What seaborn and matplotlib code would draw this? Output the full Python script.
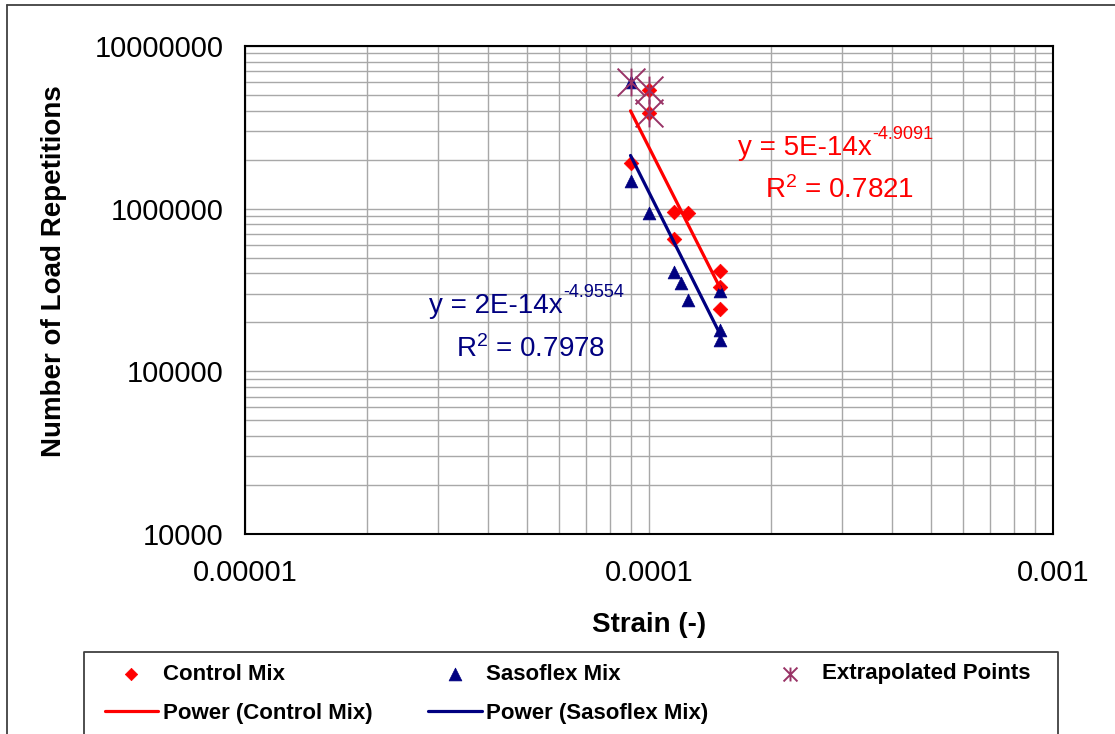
import numpy as np
import pandas as pd
import matplotlib
matplotlib.use("Agg")
import matplotlib.pyplot as plt
import seaborn as sns
from matplotlib.path import Path
from matplotlib.lines import Line2D
from matplotlib.ticker import LogLocator, FixedLocator, NullFormatter

# ---------------- data ----------------
ctrl_strain = [9e-5, 1e-4, 1e-4, 1.15e-4, 1.25e-4, 1.15e-4, 1.5e-4, 1.5e-4, 1.5e-4]
ctrl_reps = [1.92e6, 5.4e6, 3.85e6, 9.6e5, 9.4e5, 6.5e5, 4.15e5, 3.3e5, 2.4e5]

sas_strain = [9e-5, 9e-5, 1e-4, 1.15e-4, 1.2e-4, 1.25e-4, 1.5e-4, 1.5e-4, 1.5e-4]
sas_reps = [6.0e6, 1.47e6, 9.4e5, 4.1e5, 3.5e5, 2.75e5, 3.1e5, 1.8e5, 1.56e5]

ext_strain = [9e-5, 1e-4, 1e-4]
ext_reps = [6.0e6, 5.4e6, 3.85e6]

# power trendlines y = a * x^b (as drawn)
fit_range = [9e-5, 1.5e-4]
ctrl_fit = (5.5e-14, -4.9091)
sas_fit = (1.9e-14, -4.9554)
ctrl_eq = ("y = 5E-14x", "-4.9091", "0.7821")
sas_eq = ("y = 2E-14x", "-4.9554", "0.7978")

x_ticks = [1e-5, 1e-4, 1e-3]
x_tick_labels = ["0.00001", "0.0001", "0.001"]
y_ticks = [1e4, 1e5, 1e6, 1e7]
y_tick_labels = ["10000", "100000", "1000000", "10000000"]

series_labels = ["Control Mix", "Sasoflex Mix", "Extrapolated Points",
                 "Power (Control Mix)", "Power (Sasoflex Mix)"]

RED = "#FF0000"
NAVY = "#000080"
PLUM = "#993366"

# ---------------- style ----------------
sns.set_style("white")
plt.rcParams["font.family"] = ["Liberation Sans", "DejaVu Sans"]
plt.rcParams["mathtext.fontset"] = "custom"
plt.rcParams["mathtext.rm"] = "Liberation Sans"
plt.rcParams["mathtext.it"] = "Liberation Sans"
plt.rcParams["mathtext.bf"] = "Liberation Sans:bold"
for k in ["text.color", "axes.labelcolor", "xtick.color", "ytick.color"]:
    plt.rcParams[k] = "black"

W, H = 1115, 734
fig = plt.figure(figsize=(W / 100, H / 100), dpi=100)
ax_l, ax_r, ax_t, ax_b = 245, 1053, 46, 534
ax = fig.add_axes([ax_l / W, 1 - ax_b / H, (ax_r - ax_l) / W, (ax_b - ax_t) / H])
ax.set_xscale("log")
ax.set_yscale("log")
ax.set_xlim(1e-5, 1e-3)
ax.set_ylim(1e4, 1e7)

# asterisk marker (x with vertical bar)
ast = Path([(-1, -1), (1, 1), (-1, 1), (1, -1), (0, -1), (0, 1)],
           [Path.MOVETO, Path.LINETO] * 3)

df_c = pd.DataFrame({"strain": ctrl_strain, "reps": ctrl_reps})
df_s = pd.DataFrame({"strain": sas_strain, "reps": sas_reps})
df_e = pd.DataFrame({"strain": ext_strain, "reps": ext_reps})

sns.scatterplot(data=df_c, x="strain", y="reps", ax=ax, marker="D", s=55,
                color=RED, edgecolor=RED, linewidth=0.5, label=series_labels[0], zorder=3)
sns.scatterplot(data=df_s, x="strain", y="reps", ax=ax, marker="^", s=85,
                color=NAVY, edgecolor=NAVY, linewidth=0.5, label=series_labels[1], zorder=3)
sns.scatterplot(data=df_e, x="strain", y="reps", ax=ax, marker=ast, s=400,
                color=PLUM, edgecolor=PLUM, linewidth=1.4, label=series_labels[2], zorder=4)

xf = np.geomspace(fit_range[0], fit_range[1], 60)
df_fc = pd.DataFrame({"strain": xf, "reps": ctrl_fit[0] * xf ** ctrl_fit[1]})
df_fs = pd.DataFrame({"strain": xf, "reps": sas_fit[0] * xf ** sas_fit[1]})
sns.lineplot(data=df_fc, x="strain", y="reps", ax=ax, color=RED, lw=2.3,
             label=series_labels[3], estimator=None, zorder=5)
sns.lineplot(data=df_fs, x="strain", y="reps", ax=ax, color=NAVY, lw=2.3,
             label=series_labels[4], estimator=None, zorder=5)

handles, labels = ax.get_legend_handles_labels()
if ax.get_legend() is not None:
    ax.get_legend().remove()
hmap = dict(zip(labels, handles))

# ---------------- axes cosmetics ----------------
ax.xaxis.set_major_locator(FixedLocator(x_ticks))
ax.set_xticklabels(x_tick_labels)
ax.yaxis.set_major_locator(FixedLocator(y_ticks))
ax.set_yticklabels(y_tick_labels)
ax.xaxis.set_minor_locator(LogLocator(base=10, subs=np.arange(2, 10)))
ax.yaxis.set_minor_locator(LogLocator(base=10, subs=np.arange(2, 10)))
ax.xaxis.set_minor_formatter(NullFormatter())
ax.yaxis.set_minor_formatter(NullFormatter())
ax.grid(True, which="both", color="#a8a8a8", lw=1.0)
ax.set_axisbelow(True)
ax.tick_params(which="major", direction="out", length=7, width=1.2,
               labelsize=21, color="black", labelcolor="black")
ax.tick_params(axis="y", which="major", pad=8.5)
ax.tick_params(axis="x", which="major", pad=11)
ax.tick_params(which="minor", length=0)
for sp in ax.spines.values():
    sp.set_color("black")
    sp.set_linewidth(1.5)

ax.set_xlabel("Strain (-)", fontsize=20, fontweight="bold", color="black")
ax.set_ylabel("Number of Load Repetitions", fontsize=20, fontweight="bold", color="black")
ax.xaxis.set_label_coords(0.5, (ax_b - 612) / (ax_b - ax_t))
ax.yaxis.set_label_coords((67 - ax_l) / (ax_r - ax_l), (ax_b - 271) / (ax_b - ax_t))

# ---------------- trendline equations ----------------
def px2data(px, py):
    x = 10 ** (-5 + (px - ax_l) / ((ax_r - ax_l) / 2))
    y = 10 ** (7 - (py - ax_t) / ((ax_b - ax_t) / 3))
    return x, y

def equation(eq, px, py, rpx, rpy, color):
    x, y = px2data(px, py)
    t = ax.text(x, y, eq[0], color=color, fontsize=20, ha="left", va="baseline", zorder=6)
    ax.annotate(eq[1], xy=(1, 0), xycoords=t, xytext=(0.5, 16), textcoords="offset points",
                color=color, fontsize=13, ha="left", va="baseline", zorder=6)
    x2, y2 = px2data(rpx, rpy)
    ax.text(x2, y2, "R$^{2}$ = " + eq[2], color=color, fontsize=20, ha="left",
            va="baseline", zorder=6)

equation(ctrl_eq, 738, 155, 765, 198, RED)
equation(sas_eq, 429, 313, 456, 357, NAVY)

# ---------------- frames ----------------
frame_col = "#404040"
fig.add_artist(Line2D([6.7 / W, 6.7 / W], [-0.05, 1 - 5 / H], color=frame_col, lw=1.3))
fig.add_artist(Line2D([6.7 / W, 1.05], [1 - 5 / H, 1 - 5 / H], color=frame_col, lw=1.3))
lb_l, lb_r, lb_t = 84, 1058, 652
fig.add_artist(Line2D([lb_l / W, lb_l / W, lb_r / W, lb_r / W],
                      [-0.05, 1 - lb_t / H, 1 - lb_t / H, -0.05], color=frame_col, lw=1.3))

# ---------------- legend entries ----------------
def entry(label, x0, y, hl, pad, ms=1.0):
    fig.legend([hmap[label]], [label], loc="center left",
               bbox_to_anchor=(x0 / W, 1 - y / H), frameon=False, borderpad=0,
               borderaxespad=0, handlelength=hl, handletextpad=pad, markerscale=ms,
               prop=dict(weight="bold", size=16), labelcolor="black")

entry(series_labels[0], 119.7, 674, 1.0, 0.97, ms=0.85)
entry(series_labels[1], 444, 674, 1.0, 0.9)
entry(series_labels[2], 779, 674, 1.0, 0.95, ms=0.5)
entry(series_labels[3], 105, 713, 2.4, 0.23)
entry(series_labels[4], 428, 713, 2.45, 0.18)

fig.savefig("out.png", dpi=100)
